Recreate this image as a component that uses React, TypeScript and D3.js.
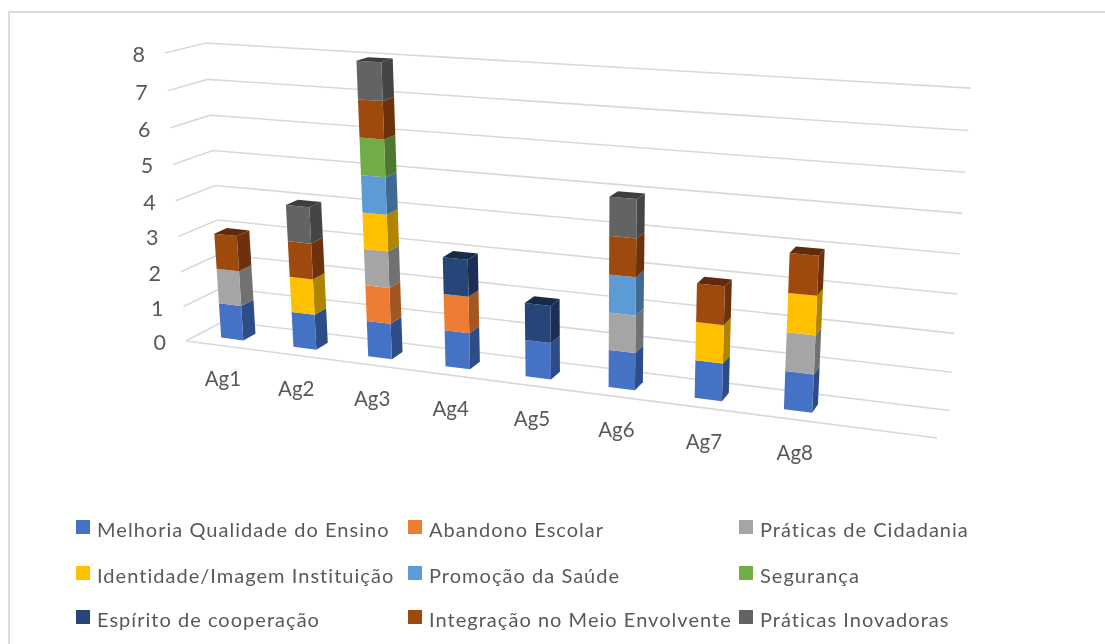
import React from "react";
import * as d3 from "d3";

const categories = ["Ag1", "Ag2", "Ag3", "Ag4", "Ag5", "Ag6", "Ag7", "Ag8"];
const seriesNames = [
  "Melhoria Qualidade do Ensino",
  "Abandono Escolar",
  "Práticas de Cidadania",
  "Identidade/Imagem Instituição",
  "Promoção da Saúde",
  "Segurança",
  "Espírito de cooperação",
  "Integração no Meio Envolvente",
  "Práticas Inovadoras",
];
const seriesColors = ["#4472C4", "#ED7D31", "#A5A5A5", "#FFC000", "#5B9BD5", "#70AD47", "#264478", "#9E480E", "#636363"];
const melhoria = [1, 1, 1, 1, 1, 1, 1, 1];
const abandono = [0, 0, 1, 1, 0, 0, 0, 0];
const cidadania = [1, 0, 1, 0, 0, 1, 0, 1];
const identidade = [0, 1, 1, 0, 0, 0, 1, 1];
const promocao = [0, 0, 1, 0, 0, 1, 0, 0];
const seguranca = [0, 0, 1, 0, 0, 0, 0, 0];
const espirito = [0, 0, 0, 1, 1, 0, 0, 0];
const integracao = [1, 1, 1, 0, 0, 1, 1, 1];
const inovadoras = [0, 1, 1, 0, 0, 1, 0, 0];
const seriesValues = [melhoria, abandono, cidadania, identidade, promocao, seguranca, espirito, integracao, inovadoras];
const valueTicks = [0, 1, 2, 3, 4, 5, 6, 7, 8];

// Perspective of the chart box
type V2 = [number, number];
const FLB: V2 = [186, 341];
const FRB: V2 = [937, 438];
const FLT: V2 = [165, 53];
const BLB: V2 = [224, 321];
const persp = { a: -0.15, b: -0.05, c: 0.038 };
const vecFrom = (p: V2, k: number): V2 => [p[0] * (1 + k) - FLB[0], p[1] * (1 + k) - FLB[1]];
const A = vecFrom(FRB, persp.a);
const B = vecFrom(FLT, persp.b);
const C = vecFrom(BLB, persp.c);
function project(u: number, v: number, w: number): V2 {
  const d = 1 + persp.a * u + persp.b * v + persp.c * w;
  return [
    (FLB[0] + u * A[0] + v * B[0] + w * C[0]) / d,
    (FLB[1] + u * A[1] + v * B[1] + w * C[1]) / d,
  ];
}

const uScale = d3.scaleBand<string>().domain([...categories, ""]).range([-0.002, 0.998]).paddingInner(0.69).paddingOuter(0.345);
const vScale = d3.scaleLinear().domain([0, 8]).range([0, 1]);
const depthFront = 0.31;
const depthBack = 0.64;
const line = d3.line<V2>();
const poly = (pts: V2[]) => line(pts) + "Z";
const shade = (c: string, k: number) => d3.rgb(c).darker(k).formatHex();

const legendCols = [76, 408, 739];
const legendRows = [520, 566, 610];
const FONT = "Lato, 'Open Sans', sans-serif";
const TEXT = "#595959";

export default function App() {
  const stacks = categories.map((cat, i) => {
    let y0 = 0;
    const segs: { key: string; s: number; y0: number; y1: number }[] = [];
    seriesValues.forEach((vals, s) => {
      if (vals[i] > 0) {
        segs.push({ key: cat + s, s, y0, y1: y0 + vals[i] });
        y0 += vals[i];
      }
    });
    return { cat, segs };
  });
  return (
    <svg width={1105} height={644} style={{ position: "absolute", left: 0, top: 0, fontFamily: FONT }}>
      <defs>
        <filter id="soft" x="-5%" y="-5%" width="110%" height="110%">
          <feGaussianBlur stdDeviation="0.45" />
        </filter>
      </defs>
      <rect width={1105} height={644} fill="#fff" />
      <path d="M9,644V12H1105" fill="none" stroke="#DCDCDC" strokeWidth={2} />
      <g filter="url(#soft)">
        {valueTicks.map((t) => {
          const v = vScale(t);
          return (
            <path
              key={t}
              d={line([project(0, v, 0), project(0, v, 1), project(1, v, 1)]) as string}
              fill="none"
              stroke="#D9D9D9"
              strokeWidth={1.6}
            />
          );
        })}
        <path d={line([project(0, 0, 0), project(1, 0, 0)]) as string} fill="none" stroke="#D9D9D9" strokeWidth={1.6} />
        {stacks.map(({ cat, segs }) => {
          const u0 = uScale(cat) as number;
          const u1 = u0 + uScale.bandwidth();
          return (
            <g key={cat}>
              {segs.map((sg) => {
                const v0 = vScale(sg.y0);
                const v1 = vScale(sg.y1);
                const col = seriesColors[sg.s];
                return (
                  <g key={sg.key}>
                    <path
                      d={poly([project(u1, v0, depthFront), project(u1, v0, depthBack), project(u1, v1, depthBack), project(u1, v1, depthFront)])}
                      fill={shade(col, 1.05)}
                    />
                    <path
                      d={poly([project(u0, v0, depthFront), project(u1, v0, depthFront), project(u1, v1, depthFront), project(u0, v1, depthFront)])}
                      fill={col}
                    />
                    {sg === segs[segs.length - 1] && (
                      <path
                        d={poly([project(u0, v1, depthFront), project(u1, v1, depthFront), project(u1, v1, depthBack), project(u0, v1, depthBack)])}
                        fill={shade(col, 1.4)}
                      />
                    )}
                  </g>
                );
              })}
            </g>
          );
        })}
      </g>
      <g fill={TEXT} filter="url(#soft)">
        {valueTicks.map((t) => {
          const [x, y] = project(0, vScale(t), 0);
          return (
            <text key={t} x={x - 20} y={y + 9} textAnchor="end" fontSize={21.5}>
              {t}
            </text>
          );
        })}
        {categories.map((c) => {
          const [x, y] = project((uScale(c) as number) + uScale.bandwidth() / 2, 0, 0);
          return (
            <text key={c} x={x + 2.5} y={y + 41} textAnchor="middle" fontSize={20.5}>
              {c}
            </text>
          );
        })}
        {seriesNames.map((n, i) => {
          const col = i % 3;
          const row = Math.floor(i / 3);
          return (
            <g key={n}>
              <rect x={legendCols[col]} y={legendRows[row]} width={14} height={14} fill={seriesColors[i]} />
              <text x={legendCols[col] + 21} y={legendRows[row] + 17} fontSize={20} letterSpacing={1.03}>
                {n}
              </text>
            </g>
          );
        })}
      </g>
    </svg>
  );
}
